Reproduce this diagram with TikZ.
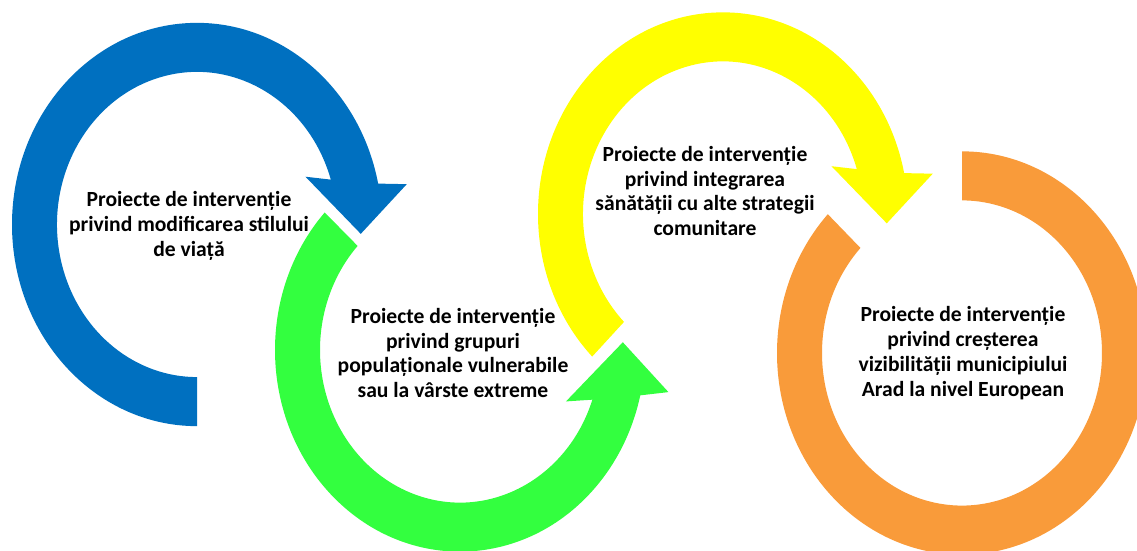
\documentclass[tikz,border=0pt]{standalone}
\usepackage{fontspec}
\setmainfont{Carlito}
\definecolor{arcBlue}{HTML}{0070C0}
\definecolor{arcGreen}{HTML}{33FF3F}
\definecolor{arcYellow}{HTML}{FFFF00}
\definecolor{arcOrange}{HTML}{F99B3A}
\begin{document}
\begin{tikzpicture}[x=0.02cm,y=0.02cm,
  lbl/.style={font=\bfseries\fontsize{12.3}{14.2}\selectfont,align=center,text=black}]
  % radii of the bands (x units), vertical stretch of the rings
  \def\RO{185}\def\RI{140}\def\YS{1.09}
  \useasboundingbox (0,0) rectangle (1137,551);
  \clip (0,0) rectangle (1137,551);

  % blue ring: starts at bottom, runs clockwise, head at right
  \begin{scope}[shift={(197,326.5)},yscale=\YS]
    \fill[arcBlue] (270:\RO) arc[start angle=270,end angle=11.7,radius=\RO]
      -- (10:213) -- (-3:164) -- (22:117) -- (17.1:\RI)
      arc[start angle=17.1,end angle=270,radius=\RI] -- cycle;
  \end{scope}

  % green ring: starts upper left, runs anticlockwise, head at right
  \begin{scope}[shift={(460,201)},yscale=\YS]
    \fill[arcGreen] (137:\RO) arc[start angle=137,end angle=347,radius=\RO]
      -- (-10.5:212) -- (2.5:163) -- (-24:116) -- (-19:\RI)
      arc[start angle=341,end angle=137,radius=\RI] -- cycle;
  \end{scope}

  % yellow ring: starts lower left, runs clockwise, head at right
  \begin{scope}[shift={(723,337)},yscale=\YS]
    \fill[arcYellow] (225:\RO) arc[start angle=225,end angle=11.7,radius=\RO]
      -- (10:213) -- (-3:164) -- (22:117) -- (17.1:\RI)
      arc[start angle=17.1,end angle=225,radius=\RI] -- cycle;
  \end{scope}

  % orange ring: no head, from top round to upper left
  \begin{scope}[shift={(962,198)},yscale=\YS]
    \fill[arcOrange] (90:\RO) arc[start angle=90,end angle=-223.5,radius=\RO]
      -- (136.5:\RI) arc[start angle=-223.5,end angle=90,radius=\RI] -- cycle;
  \end{scope}

  % labels
  \node[lbl] (stil) at (189,325) {Proiecte de intervenție\\privind modificarea stilului\\de viață};
  \node[lbl] (grup) at (453,198) {Proiecte de intervenție\\privind grupuri\\populaționale vulnerabile\\sau la vârste extreme};
  \node[lbl] (sana) at (705,360) {Proiecte de intervenție\\privind integrarea\\sănătății cu alte strategii\\comunitare};
  \node[lbl] (vizi) at (963,198) {Proiecte de intervenție\\privind creșterea\\vizibilității municipiului\\Arad la nivel European};
\end{tikzpicture}
\end{document}
